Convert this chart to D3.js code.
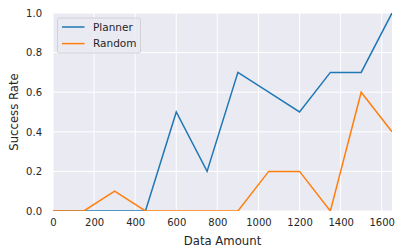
<!DOCTYPE html>
<html>
<head>
<meta charset="utf-8">
<script src="https://cdn.jsdelivr.net/npm/d3@7"></script>
<style>
  body { margin: 0; background: #fff; }
  text { font-family: "DejaVu Sans", sans-serif; fill: #262626; }
</style>
</head>
<body>
<script>
// data
var dataAmount = [0, 150, 300, 450, 600, 750, 900, 1050, 1200, 1350, 1500, 1650];
var planner = [0, 0, 0, 0, 0.5, 0.2, 0.7, 0.6, 0.5, 0.7, 0.7, 1.0];
var random = [0, 0, 0.1, 0, 0, 0, 0, 0.2, 0.2, 0, 0.6, 0.4];
var xTicks = [0, 200, 400, 600, 800, 1000, 1200, 1400, 1600];
var yTicks = [0, 0.2, 0.4, 0.6, 0.8, 1.0];
var seriesNames = ["Planner", "Random"];

var colors = {
    "Planner": "#1f77b4",
    "Random": "#ff7f0e"
};

var margin = { top: 13, right: 4, bottom: 37, left: 53 };
var width = 396 - margin.left - margin.right;
var height = 248 - margin.top - margin.bottom;

var svg = d3.select("body").append("svg")
    .attr("width", 396)
    .attr("height", 248)
    .append("g")
    .attr("transform", "translate(" + margin.left + "," + margin.top + ")");

var xScale = d3.scaleLinear().domain([0, 1650]).range([0, width]);
var yScale = d3.scaleLinear().domain([0, 1]).range([height, 0]);

svg.append("rect")
    .attr("width", width)
    .attr("height", height)
    .attr("fill", "#eaeaf2");

// grid
svg.append("g").selectAll("line").data(xTicks).enter()
    .append("line")
    .attr("x1", function(d) { return xScale(d); })
    .attr("x2", function(d) { return xScale(d); })
    .attr("y1", 0).attr("y2", height)
    .attr("stroke", "#fff").attr("stroke-width", 1);

svg.append("g").selectAll("line").data(yTicks).enter()
    .append("line")
    .attr("y1", function(d) { return yScale(d); })
    .attr("y2", function(d) { return yScale(d); })
    .attr("x1", 0).attr("x2", width)
    .attr("stroke", "#fff").attr("stroke-width", 1);

// axes (no tick marks, like seaborn darkgrid)
var xAxis = svg.append("g")
    .attr("transform", "translate(0," + height + ")")
    .call(d3.axisBottom(xScale).tickValues(xTicks).tickSize(0).tickPadding(8)
        .tickFormat(d3.format("d")));
var yAxis = svg.append("g")
    .call(d3.axisLeft(yScale).tickValues(yTicks).tickSize(0).tickPadding(11)
        .tickFormat(d3.format(".1f")));
[xAxis, yAxis].forEach(function(a) {
    a.select(".domain").remove();
    a.selectAll("text")
        .style("font-family", "DejaVu Sans, sans-serif")
        .style("font-size", "10px")
        .attr("fill", "#262626");
});

svg.append("clipPath").attr("id", "clip")
    .append("rect").attr("width", width).attr("height", height);

var line = d3.line()
    .x(function(d, i) { return xScale(dataAmount[i]); })
    .y(function(d) { return yScale(d); });

var plotArea = svg.append("g").attr("clip-path", "url(#clip)");
[planner, random].forEach(function(s, i) {
    plotArea.append("path")
        .datum(s)
        .attr("fill", "none")
        .attr("stroke", colors[seriesNames[i]])
        .attr("stroke-width", 1.5)
        .attr("d", line);
});

svg.append("text")
    .attr("x", width / 2)
    .attr("y", height + 34)
    .attr("text-anchor", "middle")
    .style("font-size", "11.7px")
    .text("Data Amount");

svg.append("text")
    .attr("transform", "rotate(-90)")
    .attr("x", -height / 2)
    .attr("y", -35)
    .attr("text-anchor", "middle")
    .style("font-size", "11.7px")
    .text("Success Rate");

// legend
var legend = svg.append("g").attr("transform", "translate(4.5,5)");
legend.append("rect")
    .attr("width", 83).attr("height", 35)
    .attr("rx", 2)
    .attr("fill", "#eaeaf2")
    .attr("fill-opacity", 0.8)
    .attr("stroke", "#cccccc")
    .attr("stroke-width", 0.8);

legend.selectAll(".lg-line").data(seriesNames).enter()
    .append("line")
    .attr("x1", 4.5).attr("x2", 27)
    .attr("y1", function(d, i) { return 9 + i * 16.6; })
    .attr("y2", function(d, i) { return 9 + i * 16.6; })
    .attr("stroke", function(d) { return colors[d]; })
    .attr("stroke-width", 1.5);

legend.selectAll(".lg-text").data(seriesNames).enter()
    .append("text")
    .attr("x", 35.5)
    .attr("y", function(d, i) { return 9 + i * 16.6; })
    .attr("dy", "0.35em")
    .style("font-size", "10.5px")
    .text(function(d) { return d; });
</script>
</body>
</html>
